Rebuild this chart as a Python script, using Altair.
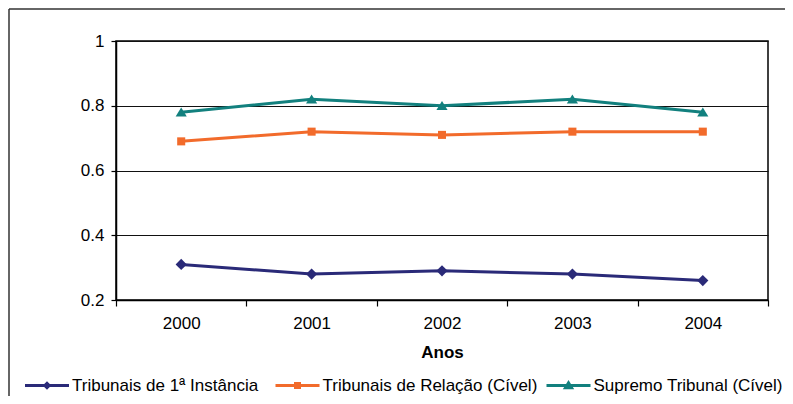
import altair as alt
import pandas as pd

years = ["2000", "2001", "2002", "2003", "2004"]
series_names = [
    "Tribunais de 1ª Instância",
    "Tribunais de Relação (Cível)",
    "Supremo Tribunal (Cível)",
]
primeira = [0.31, 0.28, 0.29, 0.28, 0.26]
relacao = [0.69, 0.72, 0.71, 0.72, 0.72]
supremo = [0.78, 0.82, 0.80, 0.82, 0.78]
y_ticks = [0.2, 0.4, 0.6, 0.8, 1.0]

colors = ["#2A2A78", "#F26B2B", "#12807E"]
# marker outlines (unit paths, scaled by Vega from the mark size)
marker_paths = [
    "M-1.25,0L0,-1.25L1.25,0L0,1.25Z",
    "M-0.9,-0.9H0.9V0.9H-0.9Z",
    "M-1.25,0.95L0,-1.05L1.25,0.95Z",
]
# legend symbols: a short line with the marker on it
legend_paths = [
    "M-11,0H11M-1.1,0L0,-1.1L1.1,0L0,1.1Z",
    "M-11,0H11M-1,-1H1V1H-1Z",
    "M-11,0H11M-1.5,1.1L0,-1.3L1.5,1.1Z",
]
legend_x = [-77.5, 173, 444]

rows = []
for name, vals in zip(series_names, [primeira, relacao, supremo]):
    for yr, v in zip(years, vals):
        rows.append({"Ano": yr, "Serie": name, "Valor": v})
df = pd.DataFrame(rows)

FONT = "Liberation Sans"

x_enc = alt.X(
    "Ano:N",
    sort=years,
    scale=alt.Scale(paddingInner=0, paddingOuter=0),
    axis=alt.Axis(
        title="Anos",
        titleFont=FONT,
        titleFontSize=17,
        titleFontWeight="bold",
        titleColor="#000000",
        titlePadding=13,
        labelFont=FONT,
        labelFontSize=17,
        labelColor="#000000",
        labelPadding=9,
        labelAngle=0,
        tickBand="extent",
        tickSize=6,
        tickColor="#000000",
        domainColor="#000000",
        domainWidth=1.5,
        tickWidth=1.2,
        grid=False,
    ),
)
y_enc = alt.Y(
    "Valor:Q",
    scale=alt.Scale(domain=[0.2, 1.0], nice=False, zero=False),
    axis=alt.Axis(
        title=None,
        values=y_ticks,
        format="~g",
        labelFont=FONT,
        labelFontSize=17,
        labelColor="#000000",
        labelPadding=7,
        tickSize=5,
        tickColor="#000000",
        tickWidth=1.2,
        domainColor="#000000",
        domainWidth=1.5,
        grid=True,
        gridColor="#111111",
        gridWidth=1.2,
    ),
)

color_scale = alt.Scale(domain=series_names, range=colors)
base = alt.Chart(df)

lines = base.mark_line(strokeWidth=3).encode(
    x=x_enc,
    y=y_enc,
    color=alt.Color("Serie:N", sort=series_names, scale=color_scale, legend=None),
)

points = base.mark_point(filled=True, size=80, opacity=1, strokeWidth=0).encode(
    x=x_enc,
    y=y_enc,
    color=alt.Color("Serie:N", sort=series_names, scale=color_scale, legend=None),
    shape=alt.Shape(
        "Serie:N",
        sort=series_names,
        scale=alt.Scale(domain=series_names, range=marker_paths),
        legend=None,
    ),
)

# one single-entry legend per series (line + marker symbol, like the original)
legend_layers = []
for name, col, path, lx in zip(series_names, colors, legend_paths, legend_x):
    leg = alt.Legend(
        orient="none",
        legendX=lx,
        legendY=336,
        direction="horizontal",
        title=None,
        symbolType=path,
        symbolSize=16,
        symbolStrokeWidth=3,
        symbolStrokeColor=col,
        labelOffset=16.5,
        labelFontSize=17,
        labelFont=FONT,
        labelColor="#000000",
        labelLimit=400,
    )
    legend_layers.append(
        base.transform_filter(alt.datum.Serie == name)
        .transform_filter("false")
        .mark_point(filled=True, opacity=1)
        .encode(
            fill=alt.Fill("Serie:N", scale=alt.Scale(domain=[name], range=[col]), legend=leg),
        )
    )

frame_data = alt.Data(values=[{"k": 1}])
frame_top = alt.Chart(frame_data).mark_rule(color="#333333", strokeWidth=1.5).encode(
    x=alt.value(-107), x2=alt.value(680), y=alt.value(-32)
)
frame_left = alt.Chart(frame_data).mark_rule(color="#333333", strokeWidth=1.5).encode(
    x=alt.value(-107), y=alt.value(-32), y2=alt.value(370)
)

chart = (
    alt.layer(frame_top, frame_left, lines, points, *legend_layers)
    .resolve_scale(shape="independent", fill="independent")
    .properties(
        width=652,
        height=259,
        autosize=alt.AutoSizeParams(type="none"),
        padding={"left": 108, "top": 33, "right": 17, "bottom": 96},
        background="#FFFFFF",
    )
    .configure_view(fill="#D1E9EF", stroke="#000000", strokeWidth=1.5)
)

chart.save("out.html", embed_options={"renderer": "svg", "actions": False})
